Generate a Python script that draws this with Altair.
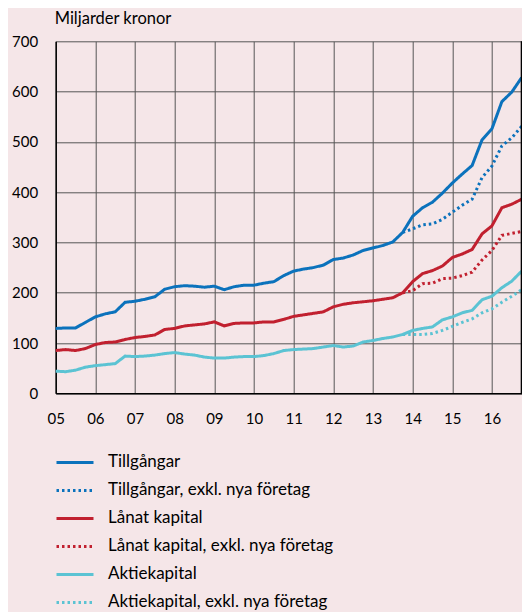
import altair as alt
import pandas as pd

years = ["05", "06", "07", "08", "09", "10", "11", "12", "13", "14", "15", "16"]
quarters_per_year = ["Q1", "Q2", "Q3", "Q4"]

# Miljarder kronor, kvartal 2005Q1 - 2016Q4
tillgangar = [129, 130, 130, 141, 152, 158, 162, 181, 183, 187, 192, 207,
              212, 214, 213, 211, 213, 206, 212, 215, 215, 219, 222, 234,
              243, 247, 250, 255, 266, 269, 275, 284, 289, 294, 301, 320,
              352, 369, 380, 398, 418, 436, 453, 504, 526, 580, 599, 628]
lanat = [85, 87, 85, 89, 97, 101, 102, 107, 111, 113, 116, 127,
         129, 134, 136, 138, 142, 134, 139, 140, 140, 142, 142, 147,
         153, 156, 159, 162, 172, 177, 180, 182, 184, 187, 190, 200,
         222, 238, 244, 253, 270, 277, 286, 317, 333, 369, 376, 386]
aktie = [44, 43, 46, 52, 55, 57, 59, 74, 73, 74, 76, 79,
         81, 78, 76, 72, 70, 70, 72, 73, 73, 75, 79, 85,
         87, 88, 89, 92, 95, 92, 94, 102, 105, 109, 112, 117,
         125, 129, 132, 146, 152, 160, 165, 186, 193, 210, 223, 243]
# exkl. nya företag, från 2013Q4
tillgangar_exkl = [320, 327, 335, 337, 346, 360, 374, 386, 429, 452, 492, 508, 531]
lanat_exkl = [200, 204, 218, 219, 228, 229, 234, 241, 265, 284, 314, 318, 322]
aktie_exkl = [117, 117, 117, 119, 125, 133, 141, 148, 160, 168, 181, 193, 206]

series_order = ["Tillgångar", "Tillgångar, exkl. nya företag",
                "Lånat kapital", "Lånat kapital, exkl. nya företag",
                "Aktiekapital", "Aktiekapital, exkl. nya företag"]
colors = ["#0B72BC", "#0B72BC", "#C1202F", "#C1202F", "#5BC3D3", "#5BC3D3"]
dashes = [[1, 0], [2.5, 3], [1, 0], [2.5, 3], [1, 0], [2.5, 3]]

t_all = [2000 + int(y) + qi * 0.25 for y in years for qi in range(len(quarters_per_year))]
t_exkl = t_all[-len(tillgangar_exkl):]

rows = []
for name, tt, vals in [
    (series_order[1], t_exkl, tillgangar_exkl),
    (series_order[3], t_exkl, lanat_exkl),
    (series_order[5], t_exkl, aktie_exkl),
    (series_order[0], t_all, tillgangar),
    (series_order[2], t_all, lanat),
    (series_order[4], t_all, aktie),
]:
    for a, b in zip(tt, vals):
        rows.append({"serie": name, "t": a, "v": b})
df = pd.DataFrame(rows)

FONT = "Lato"

x = alt.X("t:Q",
          scale=alt.Scale(domain=[t_all[0], t_all[-1]], nice=False, zero=False),
          axis=alt.Axis(values=[2000 + int(y) for y in years],
                        labelExpr="slice(toString(datum.value), 2)",
                        title=None, grid=True, ticks=False, labelFlush=False,
                        domainColor="black", domainWidth=1.5,
                        labelPadding=18, labelFontSize=15, labelFont=FONT,
                        labelColor="black"))
y = alt.Y("v:Q",
          scale=alt.Scale(domain=[0, 700], nice=False),
          axis=alt.Axis(values=list(range(0, 701, 100)), title=None,
                        ticks=False, domainColor="black", domainWidth=1.5,
                        labelPadding=18, labelFontSize=15, labelFont=FONT,
                        labelColor="black"))

lines = alt.Chart(df).mark_line(strokeWidth=3).encode(
    x=x, y=y,
    color=alt.Color("serie:N", scale=alt.Scale(domain=series_order, range=colors),
                    legend=alt.Legend(title=None)),
    strokeDash=alt.StrokeDash("serie:N", scale=alt.Scale(domain=series_order, range=dashes),
                              legend=alt.Legend(title=None)),
    detail="serie:N",
)

border = alt.Chart(pd.DataFrame({"t": [t_all[-1]]})).mark_rule(
    color="black", strokeWidth=2).encode(x="t:Q")

chart = alt.layer(lines, border).properties(
    width=466,
    height=352,
    padding={"left": 47.7, "top": 33.3, "right": 0, "bottom": 218.7},
    autosize=alt.AutoSizeParams(type="none"),
    title=alt.TitleParams("Miljarder kronor", anchor="start", fontSize=16.5,
                          font=FONT, fontWeight="normal", color="black",
                          offset=7, frame="group", dx=-1),
).configure(
    background="#F5E6E8",
).configure_view(
    stroke=None,
).configure_axis(
    gridColor="#555555", gridWidth=1, gridOpacity=1,
).configure_legend(
    orient="none", legendX=-0.7, legendY=407.5, direction="vertical",
    symbolType="stroke", symbolSize=1369, symbolStrokeWidth=3,
    clipHeight=27.4, rowPadding=0, labelOffset=13,
    labelFont=FONT, labelFontSize=17, labelColor="black", labelLimit=0,
    padding=0, symbolOffset=0,
)

chart.save("out.html", embed_options={"renderer": "svg", "actions": False})
